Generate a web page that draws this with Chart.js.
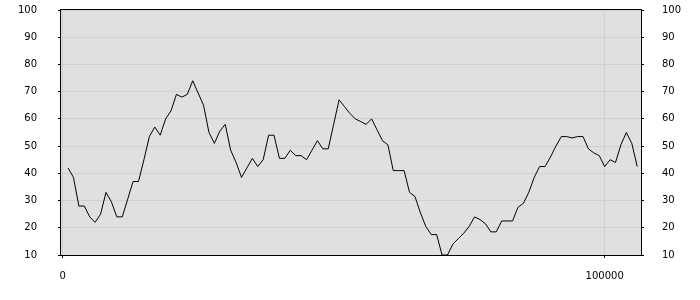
<!DOCTYPE html>
<html>
<head>
<meta charset="utf-8">
<script src="https://cdn.jsdelivr.net/npm/chart.js@4"></script>
<style>
  html, body { margin: 0; padding: 0; background: #ffffff; }
  #wrap { width: 700px; height: 300px; }
</style>
</head>
<body>
<div id="wrap"><canvas id="c" width="700" height="300"></canvas></div>
<script>
const xValues = [1000,2000,3000,4000,5000,6000,7000,8000,9000,10000,
  11000,12000,13000,14000,15000,16000,17000,18000,19000,20000,
  21000,22000,23000,24000,25000,26000,27000,28000,29000,30000,
  31000,32000,33000,34000,35000,36000,37000,38000,39000,40000,
  41000,42000,43000,44000,45000,46000,47000,48000,49000,50000,
  51000,52000,53000,54000,55000,56000,57000,58000,59000,60000,
  61000,62000,63000,64000,65000,66000,67000,68000,69000,70000,
  71000,72000,73000,74000,75000,76000,77000,78000,79000,80000,
  81000,82000,83000,84000,85000,86000,87000,88000,89000,90000,
  91000,92000,93000,94000,95000,96000,97000,98000,99000,100000,
  101000,102000,103000,104000,105000,106000];
const yValues = [42,38.5,28,28,24,22,25,33,29.5,24,
  24,30.5,37,37,45,53.5,57,54,60,63,
  69,68,69,74,69.5,65,55,51,55.5,58,
  48.5,44,38.5,42,45.5,42.5,45,54,54,45.5,
  45.5,48.5,46.5,46.5,45,48.5,52,49,49,58,
  67,64.5,62,60,59,58,60,56,52,50.5,
  41,41,41,33,31.5,25.5,20.5,17.5,17.5,10,
  10,14,16,18,20.5,24,23,21.5,18.5,18.5,
  22.5,22.5,22.5,27.5,29,33,38.5,42.5,42.5,46,
  50,53.5,53.5,53,53.5,53.5,49,47.5,46.5,42.5,
  45,44,50.5,55,51,42.5];
const xTickValues = [0, 100000];
const yTickMin = 10, yTickMax = 100, yTickStep = 10;

const points = xValues.map((x, i) => ({ x: x, y: yValues[i] }));

const plotBox = {
  id: 'plotBox',
  beforeDraw(chart) {
    const a = chart.chartArea, ctx = chart.ctx;
    ctx.save();
    ctx.fillStyle = '#e0e0e0';
    ctx.fillRect(a.left, a.top, a.right - a.left, a.bottom - a.top);
    ctx.restore();
  },
  afterDraw(chart) {
    const a = chart.chartArea, ctx = chart.ctx;
    ctx.save();
    ctx.strokeStyle = '#000000';
    ctx.lineWidth = 1;
    ctx.strokeRect(Math.round(a.left) - 0.5, Math.round(a.top) - 0.5,
      Math.round(a.right - a.left) + 1, Math.round(a.bottom - a.top) + 1);
    ctx.restore();
  }
};

const font = { family: 'DejaVu Sans', size: 10 };

function fixVertical(width) {
  return function (scale) {
    scale.width = width;
    scale.paddingTop = 0;
    scale.paddingBottom = 0;
  };
}

new Chart(document.getElementById('c'), {
  type: 'line',
  data: {
    datasets: [{
      data: points,
      borderColor: '#000000',
      borderWidth: 1,
      pointRadius: 0,
      tension: 0,
      fill: false,
      yAxisID: 'y'
    }]
  },
  options: {
    responsive: false,
    animation: false,
    events: [],
    layout: { padding: { top: 10, left: 0, right: 0, bottom: 0 } },
    plugins: { legend: { display: false }, tooltip: { enabled: false } },
    scales: {
      x: {
        type: 'linear',
        min: -300,
        max: 106700,
        afterBuildTicks(scale) { scale.ticks = xTickValues.map(v => ({ value: v })); },
        afterFit(scale) { scale.height = 45; scale.paddingLeft = 0; scale.paddingRight = 0; },
        grid: { color: '#d0d0d0', tickColor: '#000000', tickLength: 3, lineWidth: 1 },
        border: { display: false },
        ticks: { color: '#000000', font: font, padding: 12, maxRotation: 0, callback: v => String(v) }
      },
      y: {
        position: 'left',
        min: yTickMin,
        max: yTickMax,
        afterFit: fixVertical(61),
        grid: { color: '#d0d0d0', tickColor: '#000000', tickLength: 3, lineWidth: 1 },
        border: { display: false },
        ticks: { stepSize: yTickStep, color: '#000000', font: font, padding: 21 }
      },
      y2: {
        position: 'right',
        min: yTickMin,
        max: yTickMax,
        afterFit: fixVertical(59),
        grid: { drawOnChartArea: false, tickColor: '#000000', tickLength: 3 },
        border: { display: false },
        ticks: { stepSize: yTickStep, color: '#000000', font: font, padding: 18 }
      }
    }
  },
  plugins: [plotBox]
});
</script>
</body>
</html>
